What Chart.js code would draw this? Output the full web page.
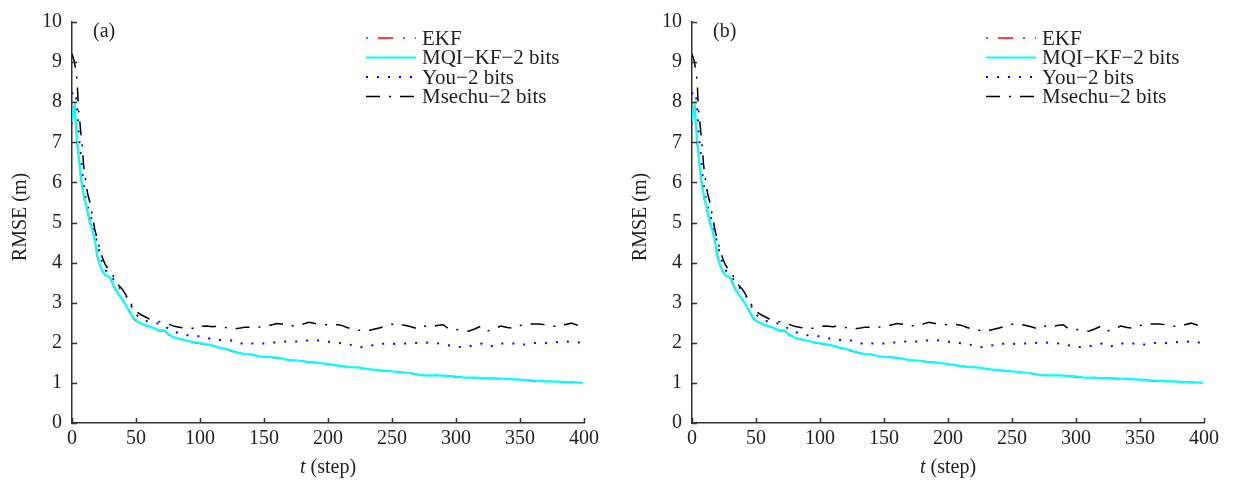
<!DOCTYPE html>
<html>
<head>
<meta charset="utf-8">
<script src="https://cdn.jsdelivr.net/npm/chart.js@4.4.1/dist/chart.umd.min.js"></script>
<style>
  html, body { margin: 0; padding: 0; background: #fff; }
  body { width: 1234px; height: 484px; position: relative; overflow: hidden; }
  .panel { position: absolute; top: 0; width: 614px; height: 484px; }
  #pa { left: 0; }
  #pb { left: 620px; }
</style>
</head>
<body>
<div class="panel" id="pa"><canvas id="chartA"></canvas></div>
<div class="panel" id="pb"><canvas id="chartB"></canvas></div>
<script>
// time steps (dense at the start where the curves drop fast)
const steps = [
  0, 1, 2, 3, 4, 5, 6, 7, 8, 9, 10,
  12, 14, 16, 18, 20, 22, 24, 26, 28, 30,
  33, 36, 39, 42, 45, 48, 51, 54, 57, 60,
  64, 68, 72, 76, 80,
  85, 90, 95, 100, 105, 110, 115, 120, 125, 130,
  135, 140, 145, 150, 155, 160, 165, 170, 175, 180,
  185, 190, 195, 200, 205, 210, 215, 220, 225, 230,
  235, 240, 245, 250, 255, 260, 265, 270, 275, 280,
  285, 290, 295, 300, 305, 310, 315, 320, 325, 330,
  335, 340, 345, 350, 355, 360, 365, 370, 375, 380,
  385, 390, 395, 399
];

const ekf = [
  7.45, 7.75, 7.9, 7.5, 7.02, 6.68, 6.42, 6.1, 5.88, 5.7, 5.5,
  5.28, 4.98, 4.82, 4.5, 4.12, 3.9, 3.76, 3.66, 3.64, 3.6,
  3.38, 3.2, 3.1, 2.93, 2.77, 2.6, 2.52, 2.48, 2.43, 2.4,
  2.36, 2.3, 2.3, 2.19, 2.12,
  2.08, 2.05, 2.01, 1.98, 1.95, 1.92, 1.88, 1.84, 1.79, 1.75,
  1.72, 1.7, 1.67, 1.64, 1.64, 1.62, 1.6, 1.57, 1.55, 1.54,
  1.52, 1.5, 1.49, 1.46, 1.45, 1.42, 1.4, 1.38, 1.37, 1.35,
  1.33, 1.31, 1.3, 1.28, 1.27, 1.25, 1.24, 1.21, 1.19, 1.18,
  1.19, 1.17, 1.17, 1.15, 1.14, 1.13, 1.12, 1.12, 1.11, 1.11,
  1.1, 1.09, 1.09, 1.08, 1.07, 1.05, 1.05, 1.04, 1.03, 1.03,
  1.02, 1.01, 1.01, 1.0
];

const mqiKf = [
  7.5, 7.8, 7.92, 7.45, 7.0, 6.7, 6.4, 6.12, 5.9, 5.72, 5.55,
  5.3, 5.02, 4.8, 4.52, 4.15, 3.92, 3.78, 3.68, 3.66, 3.62,
  3.4, 3.22, 3.1, 2.95, 2.78, 2.62, 2.53, 2.49, 2.44, 2.41,
  2.37, 2.31, 2.31, 2.2, 2.13,
  2.09, 2.05, 2.02, 1.99, 1.96, 1.93, 1.88, 1.85, 1.8, 1.75,
  1.72, 1.71, 1.67, 1.65, 1.64, 1.63, 1.6, 1.57, 1.56, 1.54,
  1.52, 1.51, 1.49, 1.47, 1.45, 1.42, 1.4, 1.39, 1.38, 1.35,
  1.33, 1.32, 1.3, 1.29, 1.27, 1.26, 1.24, 1.21, 1.19, 1.19,
  1.19, 1.18, 1.17, 1.16, 1.14, 1.13, 1.13, 1.12, 1.12, 1.11,
  1.11, 1.1, 1.09, 1.08, 1.07, 1.06, 1.05, 1.04, 1.04, 1.03,
  1.02, 1.02, 1.01, 1.0
];

const you = [
  8.2, 8.28, 8.25, 8.22, 7.9, 7.3, 6.95, 6.65, 6.25, 5.95, 5.72,
  5.42, 5.2, 5.0, 4.7, 4.46, 4.18, 3.95, 3.82, 3.74, 3.69,
  3.55, 3.42, 3.3, 3.18, 3.02, 2.8, 2.68, 2.6, 2.55, 2.53,
  2.5, 2.48, 2.44, 2.32, 2.27,
  2.23, 2.19, 2.17, 2.16, 2.12, 2.09, 2.07, 2.06, 2.06, 2.0,
  1.96, 1.98, 1.99, 1.98, 2.0, 2.01, 2.03, 2.04, 2.03, 2.05,
  2.06, 2.07, 2.05, 2.03, 2.0, 1.99, 1.97, 1.93, 1.89, 1.91,
  1.94, 1.97, 1.98, 1.97, 1.98, 1.98, 1.99, 2.0, 2.01, 2.0,
  1.99, 1.96, 1.93, 1.9, 1.89, 1.91, 1.95, 1.98, 1.91, 1.92,
  1.98, 1.99, 1.98, 1.95, 1.96, 2.0, 1.99, 1.99, 2.0, 2.02,
  2.04, 2.02, 2.01, 2.01
];

const msechu = [
  9.2, 9.1, 9.0, 8.75, 8.55, 7.85, 7.55, 7.2, 6.9, 6.45, 6.2,
  5.75, 5.5, 5.15, 4.8, 4.55, 4.3, 4.1, 3.95, 3.85, 3.78,
  3.62, 3.45, 3.35, 3.2, 3.05, 2.85, 2.76, 2.7, 2.65, 2.6,
  2.57, 2.53, 2.5, 2.46, 2.41,
  2.38, 2.37, 2.36, 2.41, 2.42, 2.4, 2.42, 2.38, 2.34, 2.36,
  2.39, 2.39, 2.38, 2.42, 2.44, 2.48, 2.46, 2.41, 2.44, 2.46,
  2.51, 2.48, 2.46, 2.45, 2.46, 2.44, 2.38, 2.33, 2.31, 2.29,
  2.33, 2.37, 2.41, 2.46, 2.46, 2.44, 2.4, 2.35, 2.42, 2.4,
  2.43, 2.45, 2.33, 2.33, 2.32, 2.29, 2.35, 2.42, 2.3, 2.34,
  2.42, 2.38, 2.36, 2.43, 2.45, 2.47, 2.47, 2.45, 2.41, 2.41,
  2.45, 2.49, 2.44, 2.42
];

const seriesNames = ['EKF', 'MQI\u2212KF\u22122 bits', 'You\u22122 bits', 'Msechu\u22122 bits'];
const xTicks = [0, 50, 100, 150, 200, 250, 300, 350, 400];
const yTicks = [0, 1, 2, 3, 4, 5, 6, 7, 8, 9, 10];

const serif = "'Liberation Serif', 'Times New Roman', serif";
const ink = '#231F20';

const pts = vals => steps.map((t, i) => ({ x: t, y: vals[i] }));

// inward ticks, axis titles, panel tag and the line-sample legend
const decor = {
  id: 'decor',
  afterDraw(chart, args, opts) {
    const { ctx, chartArea: a, scales: { x, y } } = chart;
    ctx.save();
    ctx.strokeStyle = '#333';
    ctx.lineWidth = 1.5;
    ctx.beginPath();
    yTicks.forEach(v => {
      const py = Math.round(y.getPixelForValue(v)) + 0.5;
      ctx.moveTo(a.left, py); ctx.lineTo(a.left + 5, py);
    });
    xTicks.forEach(v => {
      const px = Math.round(x.getPixelForValue(v)) + 0.5;
      ctx.moveTo(px, a.bottom); ctx.lineTo(px, a.bottom - 5);
    });
    ctx.stroke();

    ctx.fillStyle = ink;
    ctx.textBaseline = 'middle';
    ctx.font = `20px ${serif}`;

    ctx.save();
    ctx.translate(21, 217);
    ctx.rotate(-Math.PI / 2);
    ctx.textAlign = 'center';
    ctx.fillText('RMSE (m)', 0, 0);
    ctx.restore();

    // x title: italic t + " (step)"
    const rest = ' (step)';
    ctx.font = `italic 20px ${serif}`;
    const wt = ctx.measureText('t').width;
    ctx.font = `20px ${serif}`;
    const wr = ctx.measureText(rest).width;
    const cx = (a.left + a.right) / 2;
    const sx = cx - (wt + wr) / 2;
    ctx.textAlign = 'left';
    ctx.font = `italic 20px ${serif}`;
    ctx.fillText('t', sx, 468);
    ctx.font = `20px ${serif}`;
    ctx.fillText(rest, sx + wt, 468);

    ctx.fillText(opts.tag, 93, 32);

    chart.data.datasets.forEach((ds, i) => {
      const ly = 38 + i * 19.5;
      ctx.strokeStyle = ds.borderColor;
      ctx.lineWidth = ds.borderWidth;
      ctx.setLineDash(ds.borderDash || []);
      ctx.beginPath();
      ctx.moveTo(366, ly); ctx.lineTo(416, ly);
      ctx.stroke();
      ctx.setLineDash([]);
      ctx.font = `21px ${serif}`;
      ctx.fillText(ds.label, 422, ly + 1);
    });
    ctx.restore();
  }
};

function makeChart(id, tag) {
  return new Chart(document.getElementById(id), {
    type: 'line',
    data: {
      datasets: [
        { label: seriesNames[0], data: pts(ekf), borderColor: '#FF0000', borderWidth: 1.5, borderDash: [2, 10, 15, 10], order: 2 },
        { label: seriesNames[1], data: pts(mqiKf), borderColor: '#00FFFF', borderWidth: 2.2, order: 1 },
        { label: seriesNames[2], data: pts(you), borderColor: '#0000FF', borderWidth: 2, borderDash: [2, 9], order: 3 },
        { label: seriesNames[3], data: pts(msechu), borderColor: '#000000', borderWidth: 1.5, borderDash: [14, 9, 2, 9], order: 4 }
      ]
    },
    options: {
      responsive: true,
      maintainAspectRatio: false,
      animation: false,
      elements: { point: { radius: 0 }, line: { tension: 0 } },
      layout: { padding: { top: 19, right: 30, left: 0, bottom: 0 } },
      plugins: { legend: { display: false }, tooltip: { enabled: false }, decor: { tag } },
      scales: {
        x: {
          type: 'linear', min: 0, max: 400,
          afterBuildTicks: s => { s.ticks = xTicks.map(v => ({ value: v })); },
          afterFit: s => { s.height = 61; },
          grid: { display: false, drawTicks: false },
          border: { display: true, color: '#333', width: 1.5 },
          ticks: { color: ink, font: { family: serif, size: 20 }, padding: 4, maxRotation: 0 }
        },
        y: {
          min: 0, max: 10,
          afterBuildTicks: s => { s.ticks = yTicks.map(v => ({ value: v })); },
          afterFit: s => { s.width = 72; },
          grid: { display: false, drawTicks: false },
          border: { display: true, color: '#333', width: 1.5 },
          ticks: { color: ink, font: { family: serif, size: 20 }, padding: 10 }
        }
      }
    },
    plugins: [decor]
  });
}

makeChart('chartA', '(a)');
makeChart('chartB', '(b)');
</script>
</body>
</html>
